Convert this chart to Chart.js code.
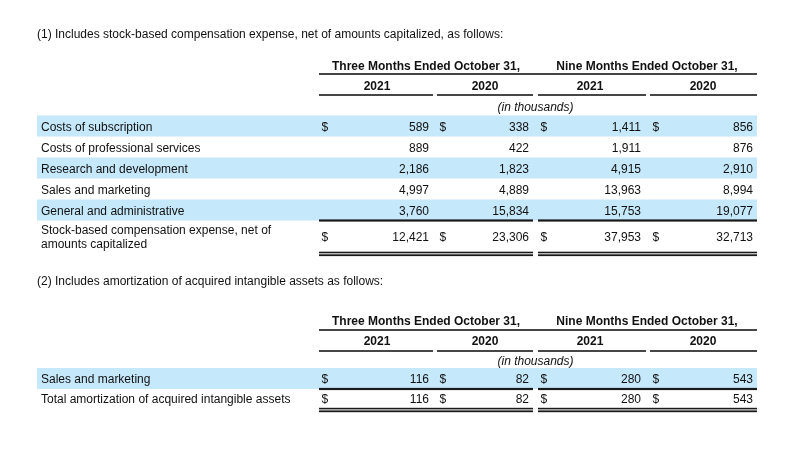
<!DOCTYPE html>
<html>
<head>
<meta charset="utf-8">
<script src="https://cdn.jsdelivr.net/npm/chart.js@4.4.0/dist/chart.umd.min.js"></script>
<style>
  html, body { margin: 0; padding: 0; background: #fff; }
</style>
</head>
<body>
<canvas id="tableChart" width="792" height="464"></canvas>
<script>
var periods = ['Three Months Ended October 31,', 'Nine Months Ended October 31,'];
var years = ['2021', '2020', '2021', '2020'];
var unitsNote = '(in thousands)';

var title1 = '(1) Includes stock-based compensation expense, net of amounts capitalized, as follows:';
var categories1 = ['Costs of subscription', 'Costs of professional services', 'Research and development', 'Sales and marketing', 'General and administrative'];
var threeMonths2021 = [589, 889, 2186, 4997, 3760];
var threeMonths2020 = [338, 422, 1823, 4889, 15834];
var nineMonths2021 = [1411, 1911, 4915, 13963, 15753];
var nineMonths2020 = [856, 876, 2910, 8994, 19077];
var totalLabel1 = ['Stock-based compensation expense, net of', 'amounts capitalized'];
var totals1 = [12421, 23306, 37953, 32713];

var title2 = '(2) Includes amortization of acquired intangible assets as follows:';
var categories2 = ['Sales and marketing'];
var amortThree2021 = [116];
var amortThree2020 = [82];
var amortNine2021 = [280];
var amortNine2020 = [543];
var totalLabel2 = ['Total amortization of acquired intangible assets'];
var totals2 = [116, 82, 280, 543];

// ---- layout (in scale units) ----
var FONT = '"Liberation Sans", Arial, sans-serif';
var BLUE = '#c5e8fa';
var INK = '#111';
var TEXT_NUDGE = 1.5; // canvas "middle" sits a bit high for Arial caps
var cols = {
  label: 41, stripeLeft: 37, right: 757, left: 319,
  dollar: [321.5, 439.5, 540.5, 652.5],
  value: [429, 529, 641, 753],
  year: [377, 485, 590, 703],
  yearLine: [[319, 433], [437, 533], [538, 646], [650, 757]],
  period: [426, 647],
  periodLine: [[319, 533], [538, 757]]
};

var sections = [
  { title: title1, titleY: 33, periodY: 65.5, periodRule: 74, yearY: 85, yearRule: 95, noteY: 106,
    rowY: 126, rowStep: 21, rows: categories1,
    values: [threeMonths2021, threeMonths2020, nineMonths2021, nineMonths2020],
    totalLabel: totalLabel1, totals: totals1, totalY: 236, totalLineStep: 14, doubleY: [252.5, 255.2] },
  { title: title2, titleY: 280, periodY: 320.5, periodRule: 330, yearY: 340, yearRule: 351, noteY: 360,
    rowY: 378.5, rowStep: 21, rows: categories2,
    values: [amortThree2021, amortThree2020, amortNine2021, amortNine2020],
    totalLabel: totalLabel2, totals: totals2, totalY: 398, totalLineStep: 14, doubleY: [408.6, 411.3] }
];

function fmt(n) { return n.toLocaleString('en-US'); }

var tablePlugin = {
  id: 'finTable',
  afterDraw: function(chart) {
    var ctx = chart.ctx;
    var xs = chart.scales.x, ys = chart.scales.y;
    var X = function(v) { return xs.getPixelForValue(v); };
    var Y = function(v) { return ys.getPixelForValue(v); };

    function text(s, x, y, align, style) {
      ctx.font = (style || '') + ' 12px ' + FONT;
      ctx.textAlign = align;
      ctx.textBaseline = 'middle';
      ctx.fillStyle = INK;
      ctx.fillText(s, X(x), Y(y + TEXT_NUDGE));
    }
    function rule(x1, x2, y, w) {
      ctx.fillStyle = '#1a1a1a';
      ctx.fillRect(X(x1), Y(y) - w / 2, X(x2) - X(x1), w);
    }

    ctx.save();
    sections.forEach(function(sec) {
      text(sec.title, cols.stripeLeft, sec.titleY, 'left');

      // header
      periods.forEach(function(p, i) { text(p, cols.period[i], sec.periodY, 'center', 'bold'); });
      rule(cols.left, cols.right, sec.periodRule, 1.6);
      years.forEach(function(yr, i) {
        text(yr, cols.year[i], sec.yearY, 'center', 'bold');
        rule(cols.yearLine[i][0], cols.yearLine[i][1], sec.yearRule, 1.6);
      });
      text(unitsNote, (cols.yearLine[1][1] + cols.yearLine[2][0]) / 2, sec.noteY, 'center', 'italic');

      // stripes
      sec.rows.forEach(function(r, i) {
        if (i % 2 === 0) {
          var cy = sec.rowY + i * sec.rowStep;
          ctx.fillStyle = BLUE;
          ctx.fillRect(X(cols.stripeLeft), Y(cy - sec.rowStep / 2), X(cols.right) - X(cols.stripeLeft), Y(cy + sec.rowStep / 2) - Y(cy - sec.rowStep / 2));
        }
      });

      // body rows
      sec.rows.forEach(function(r, i) {
        var cy = sec.rowY + i * sec.rowStep;
        text(r, cols.label, cy, 'left');
        sec.values.forEach(function(series, c) {
          if (i === 0) text('$', cols.dollar[c], cy, 'left');
          text(fmt(series[i]), cols.value[c], cy, 'right');
        });
      });

      // rule above total
      var lastBottom = sec.rowY + (sec.rows.length - 1) * sec.rowStep + sec.rowStep / 2;
      cols.periodLine.forEach(function(seg) { rule(seg[0], seg[1], lastBottom, 2.2); });

      // total row
      var n = sec.totalLabel.length;
      sec.totalLabel.forEach(function(l, k) {
        text(l, cols.label, sec.totalY + (k - (n - 1) / 2) * sec.totalLineStep, 'left');
      });
      sec.totals.forEach(function(v, c) {
        text('$', cols.dollar[c], sec.totalY, 'left');
        text(fmt(v), cols.value[c], sec.totalY, 'right');
      });
      cols.periodLine.forEach(function(seg) {
        rule(seg[0], seg[1], sec.doubleY[0], 1.6);
        rule(seg[0], seg[1], sec.doubleY[1], 1.8);
      });
    });
    ctx.restore();
  }
};

var chart = new Chart(document.getElementById('tableChart'), {
  type: 'scatter',
  data: { datasets: [{ data: [], pointRadius: 0 }] },
  options: {
    responsive: false,
    animation: false,
    layout: { padding: 0 },
    plugins: { legend: { display: false }, tooltip: { enabled: false } },
    scales: {
      x: { type: 'linear', min: 0, max: 792, display: false },
      y: { type: 'linear', min: 0, max: 464, reverse: true, display: false }
    }
  },
  plugins: [tablePlugin]
});
</script>
</body>
</html>
